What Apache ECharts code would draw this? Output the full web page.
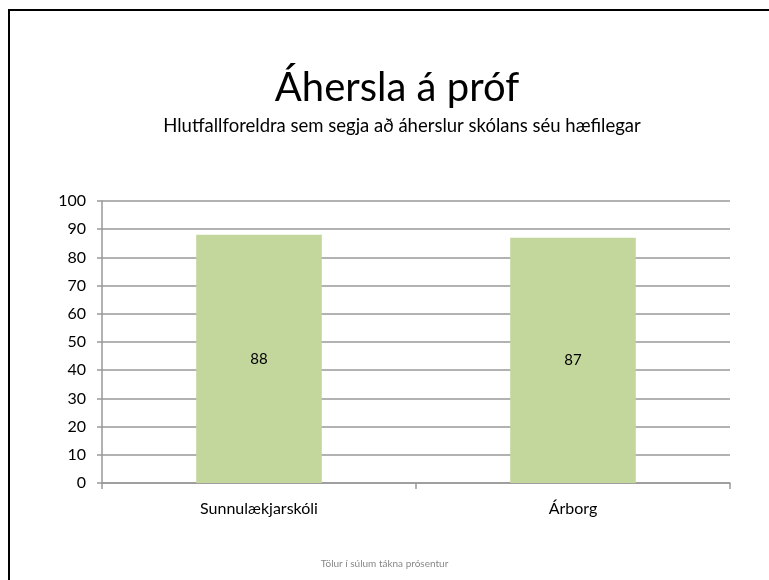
<!DOCTYPE html>
<html>
<head>
<meta charset="utf-8">
<script src="https://cdn.jsdelivr.net/npm/echarts@6/dist/echarts.min.js"></script>
<style>
  html, body { margin: 0; padding: 0; background: #fff; overflow: hidden; }
  #chart { width: 769px; height: 580px; }
  #frame { position: absolute; left: 8px; top: 9px; width: 761px; height: 571px;
           border-top: 2px solid #000; border-left: 2px solid #000; pointer-events: none; }
</style>
</head>
<body>
<div id="chart"></div>
<div id="frame"></div>
<script>
// gögn
var categories = ['Sunnulækjarskóli', 'Árborg'];
var values = [88, 87];
var titleText = 'Áhersla á próf';
var subText = 'Hlutfallforeldra sem segja að áherslur skólans séu hæfilegar';
var noteText = 'Tölur í súlum tákna prósentur';

var font = 'Lato, "Open Sans", sans-serif';
var myChart = echarts.init(document.getElementById('chart'));
var option = {
    backgroundColor: '#fff',
    animation: false,
    title: [{
        text: titleText,
        left: 392,
        textAlign: 'center',
        top: 63,
        textStyle: { fontFamily: font, fontSize: 40, fontWeight: 'normal', color: '#000' }
    }, {
        text: subText,
        left: 397,
        textAlign: 'center',
        top: 112,
        textStyle: { fontFamily: font, fontSize: 18.5, fontWeight: 'normal', color: '#000' }
    }, {
        text: noteText,
        left: 'center',
        top: 554,
        textStyle: { fontFamily: font, fontSize: 10, fontWeight: 'normal', color: '#888' }
    }],
    grid: { left: 102, right: 39, top: 201, bottom: 97 },
    xAxis: {
        type: 'category',
        data: categories,
        axisLine: { lineStyle: { color: '#999', width: 1.5 } },
        axisTick: { show: true, length: 6, lineStyle: { color: '#999', width: 1.5 } },
        axisLabel: { fontFamily: font, fontSize: 16, color: '#000', margin: 18 }
    },
    yAxis: {
        type: 'value',
        min: 0,
        max: 100,
        interval: 10,
        axisLine: { show: true, lineStyle: { color: '#999', width: 1.5 } },
        axisTick: { show: true, length: 5, lineStyle: { color: '#999', width: 1.5 } },
        axisLabel: { fontFamily: font, fontSize: 16, color: '#000', margin: 16 },
        splitLine: { lineStyle: { color: '#999', width: 1.5 } }
    },
    series: [{
        type: 'bar',
        data: values,
        barWidth: '40%',
        itemStyle: { color: '#c3d69b' },
        label: {
            show: true,
            position: 'inside',
            fontFamily: font,
            fontSize: 15,
            color: '#000'
        }
    }]
};
myChart.setOption(option);
</script>
</body>
</html>
